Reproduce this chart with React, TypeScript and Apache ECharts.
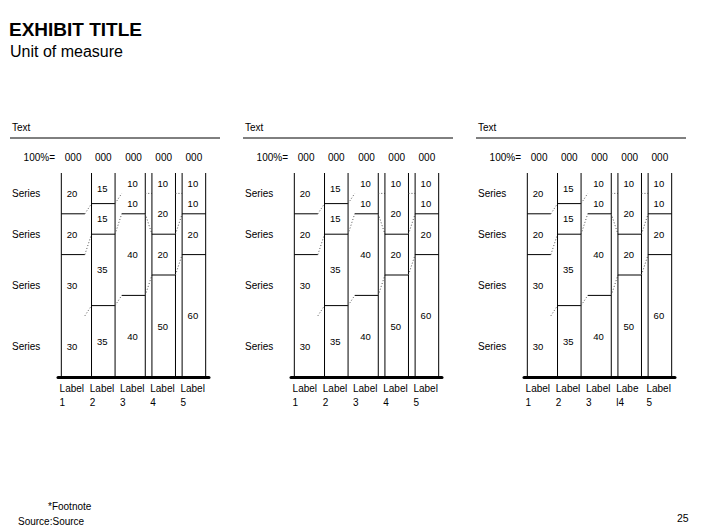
import React, { useEffect, useRef } from "react";
import * as echarts from "echarts";

const FONT = "'Liberation Sans', Arial, sans-serif";

const panelHeaders = ["Text", "Text", "Text"];
const rowNames = ["Series", "Series", "Series", "Series"];
const totalLabels = ["000", "000", "000", "000", "000"];
const totalPrefix = "100%=";

const categoriesPanel1 = ["Label\n1", "Label\n2", "Label\n3", "Label\n4", "Label\n5"];
const categoriesPanel2 = ["Label\n1", "Label\n2", "Label\n3", "Label\n4", "Label\n5"];
const categoriesPanel3 = ["Label\n1", "Label\n2", "Label\n3", "Labe\nl4", "Label\n5"];

// segment values (percent), top to bottom
const seriesRow1 = [20, 15, 10, 10, 10];
const seriesRow2 = [20, 15, 10, 20, 10];
const seriesRow3 = [30, 35, 40, 20, 20];
const seriesRow4 = [30, 35, 40, 50, 60];
const rows = [seriesRow1, seriesRow2, seriesRow3, seriesRow4];

const panels = [categoriesPanel1, categoriesPanel2, categoriesPanel3];

// drawing style details (as seen in the reference)
const leftEdge = [true, true, false, true, true];
const rightEdge = [false, true, true, true, true];
const hiddenDividers: number[][] = [[2], [], [0], [0], [0]];

const gridLefts = [58, 291, 524];

function makeRender(panelIdx: number) {
  return (params: any, api: any) => {
    const i = params.dataIndex;
    const cs = params.coordSys;
    const bandW = api.size([1, 0])[0];
    const bw = bandW * 0.78;
    const cx = api.coord([i, 0])[0];
    const xl = cx - bw / 2;
    const xr = cx + bw / 2;
    const yTop = api.coord([i, 0])[1];
    const yBot = api.coord([i, 100])[1];
    const children: any[] = [];
    const solid = { stroke: "#000", lineWidth: 1 };
    const txt = (text: string, x: number, y: number, size: number, align = "center") => ({
      type: "text",
      x,
      y,
      style: { text, fill: "#000", fontSize: size, fontFamily: FONT, align, verticalAlign: "middle" },
    });
    if (leftEdge[i]) children.push({ type: "line", shape: { x1: xl, y1: yTop, x2: xl, y2: yBot }, style: solid });
    if (rightEdge[i]) children.push({ type: "line", shape: { x1: xr, y1: yTop, x2: xr, y2: yBot }, style: solid });
    let cum = 0;
    let cumNext = 0;
    const n = rows[0].length;
    rows.forEach((row, k) => {
      const v = row[i];
      const y0 = api.coord([i, cum])[1];
      const y1 = api.coord([i, cum + v])[1];
      children.push(txt(String(v), cx - 1, (y0 + y1) / 2, 9.5));
      if (i === 0) {
        children.push(txt(rowNames[k], cs.x - 46, (y0 + y1) / 2, 10, "left"));
      }
      cum += v;
      if (k < rows.length - 1) {
        if (hiddenDividers[i].indexOf(k) < 0) {
          children.push({ type: "line", shape: { x1: xl, y1: y1, x2: xr, y2: y1 }, style: solid });
        }
        if (i < n - 1) {
          cumNext += rows[k][i + 1];
          const nx = api.coord([i + 1, cumNext]);
          const nxl = nx[0] - bw / 2;
          children.push({
            type: "line",
            shape: { x1: xr, y1: y1, x2: nxl, y2: nx[1] },
            style: { stroke: "#555", lineWidth: 1, lineDash: [1, 2] },
          });
        }
      }
    });
    children.push(txt(totalLabels[i], cx, yTop - 16, 10));
    if (i === 0) {
      children.push(txt(totalPrefix, cs.x - 3, yTop - 16, 10, "right"));
      children.push(txt(panelHeaders[panelIdx], cs.x - 46, cs.y - 46, 10, "left"));
      children.push({
        type: "line",
        shape: { x1: cs.x - 48, y1: cs.y - 35, x2: cs.x + 162, y2: cs.y - 35 },
        style: solid,
      });
    }
    return { type: "group", children };
  };
}

export default function App() {
  const ref = useRef<HTMLDivElement>(null);
  useEffect(() => {
    if (!ref.current) return;
    const chart = echarts.init(ref.current, undefined, { renderer: "svg" });
    const grids = gridLefts.map((left) => ({ left, top: 173, width: 151, height: 204 }));
    const xAxes = panels.map((cats, p) => ({
      type: "category",
      gridIndex: p,
      position: "bottom",
      data: cats,
      axisLine: { show: true, onZero: false, lineStyle: { color: "#000", width: 3 } },
      axisTick: { show: false },
      splitLine: { show: false },
      axisLabel: {
        margin: 4,
        interval: 0,
        formatter: (val: string) => val.split("\n").map((s) => `{a|${s}}`).join("\n"),
        rich: {
          a: { width: 27, align: "left", fontSize: 10, fontFamily: FONT, color: "#000", lineHeight: 14 },
        },
      },
    }));
    const yAxes = panels.map((_, p) => ({
      type: "value",
      gridIndex: p,
      min: 0,
      max: 100,
      inverse: true,
      show: false,
    }));
    const series = panels.map((cats, p) => ({
      type: "custom",
      xAxisIndex: p,
      yAxisIndex: p,
      clip: false,
      silent: true,
      renderItem: makeRender(p),
      encode: { x: 0, y: [1, 2, 3, 4] },
      data: cats.map((_, i) => [i, seriesRow1[i], seriesRow2[i], seriesRow3[i], seriesRow4[i]]),
    }));
    const t = (text: string, x: number, y: number, size: number, extra: any = {}) => ({
      type: "text",
      x,
      y,
      silent: true,
      style: { text, fill: "#000", fontSize: size, fontFamily: FONT, verticalAlign: "middle", ...extra },
    });
    chart.setOption({
      animation: false,
      backgroundColor: "#fff",
      grid: grids,
      xAxis: xAxes,
      yAxis: yAxes,
      series,
      graphic: [
        t("EXHIBIT TITLE", 9, 29.5, 19, { fontWeight: "bold" }),
        t("Unit of measure", 10, 51, 16),
        t("*Footnote", 48, 506, 10),
        t("Source:Source", 18, 521, 10),
        t("25", 677, 518, 10.5),
      ],
    });
    return () => chart.dispose();
  }, []);
  return (
    <div
      ref={ref}
      style={{ position: "absolute", left: 0, top: 0, width: 706, height: 529, background: "#fff" }}
    />
  );
}
